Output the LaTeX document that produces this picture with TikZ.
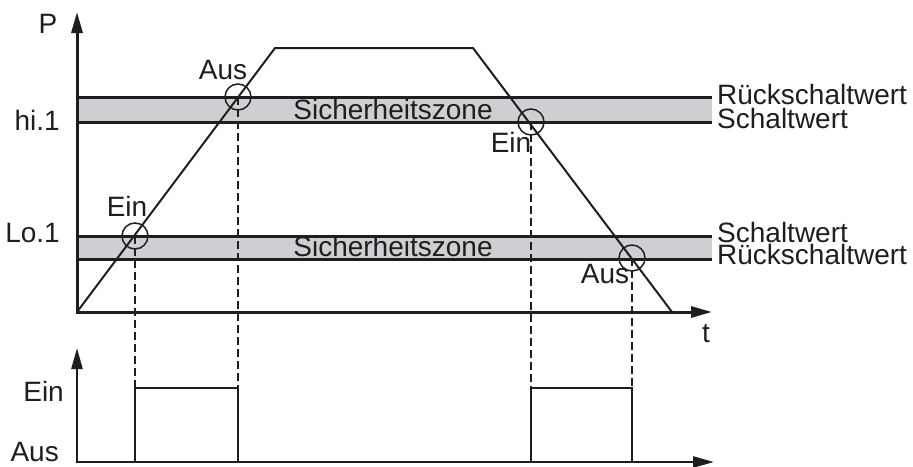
\documentclass[tikz,border=0pt]{standalone}
\usepackage{fontspec}
\setmainfont{Liberation Sans}
\usetikzlibrary{arrows.meta}
\definecolor{zonegray}{RGB}{206,207,211}
\definecolor{ink}{RGB}{30,30,30}

\begin{document}
\begin{tikzpicture}
        [x=1pt, y=-1pt, font=\fontsize{28}{30}\selectfont,
        axes/.style={line width=3pt, ink, line join=miter,
          {Triangle[length=21pt,width=11pt]}-{Triangle[length=21pt,width=11pt]}},
        level/.style={line width=3pt, ink},
        zone/.style={fill=zonegray},
        curve/.style={line width=2pt, ink, line join=miter},
        switchpt/.style={circle, draw=ink, line width=1.5pt, minimum size=26pt, inner sep=0pt},
        guide/.style={line width=2pt, ink, dash pattern=on 8pt off 4pt},
        pulse/.style={line width=2.5pt, ink},
        lbl/.style={text=ink, inner sep=0pt}]

        \useasboundingbox (0,0) rectangle (913,466);

        % upper diagram: P over t
        \coordinate (O) at (77,312);
        \coordinate (Ptop) at (77,12);
        \coordinate (tend) at (712,312);
        \coordinate (rise) at (275,48);
        \coordinate (fall) at (473,48);
        \coordinate (land) at (672,312);

        % safety zones
        \fill[zone] (77,97) rectangle (712,122);
        \fill[zone] (77,236) rectangle (712,259);
        \draw[level] (77,97) -- (712,97);
        \draw[level] (77,122) -- (712,122);
        \draw[level] (77,236) -- (712,236);
        \draw[level] (77,259) -- (712,259);

        \draw[axes] (Ptop) -- (O) -- (tend);
        \draw[curve] (O) -- (rise) -- (fall) -- (land);

        % switching points
        \node[switchpt] (einA) at (135,236) {};
        \node[switchpt] (ausA) at (238,97) {};
        \node[switchpt] (einB) at (531,122) {};
        \node[switchpt] (ausB) at (632,258) {};

        % labels
        \node[lbl, anchor=base] (P) at (48,33) {P};
        \node[lbl, anchor=base] (t) at (706,342) {t};
        \node[lbl, anchor=base east] (hi) at (60,130) {hi.1};
        \node[lbl, anchor=base east] (lo) at (60,242) {Lo.1};
        \node[lbl, anchor=base] (zoneA) at (393,119) {Sicherheitszone};
        \node[lbl, anchor=base] (zoneB) at (393,256) {Sicherheitszone};
        \node[lbl, anchor=base] (lblausA) at (223,79) {Aus};
        \node[lbl, anchor=base] (lbleinA) at (127,216) {Ein};
        \node[lbl, anchor=base] (lbleinB) at (511,152) {Ein};
        \node[lbl, anchor=base] (lblausB) at (605,283) {Aus};
        \node[lbl, anchor=base west] (rsA) at (717,104) {Rückschaltwert};
        \node[lbl, anchor=base west] (swA) at (717,128) {Schaltwert};
        \node[lbl, anchor=base west] (swB) at (717,242) {Schaltwert};
        \node[lbl, anchor=base west] (rsB) at (717,264) {Rückschaltwert};

        % lower diagram: output state
        \coordinate (O2) at (77,462);
        \coordinate (Etop) at (77,348);
        \coordinate (tend2) at (714,462);
        \draw[axes, line width=2.5pt] (Etop) -- (O2) -- (tend2);

        \coordinate (on1) at (135,388);
        \coordinate (off1) at (238,388);
        \coordinate (on2) at (531,388);
        \coordinate (off2) at (632,388);
        \draw[pulse] (135,462) -- (on1) -- (off1) -- (238,462);
        \draw[pulse] (531,462) -- (on2) -- (off2) -- (632,462);

        \node[lbl, anchor=base east] (ein) at (64,401) {Ein};
        \node[lbl, anchor=base east] (aus) at (59,461) {Aus};

        % guide lines
        \draw[guide] (einA.center) -- (on1);
        \draw[guide] (ausA.center) -- (off1);
        \draw[guide] (einB.center) -- (on2);
        \draw[guide] (ausB.center) -- (off2);

    \end{tikzpicture}
\end{document}
